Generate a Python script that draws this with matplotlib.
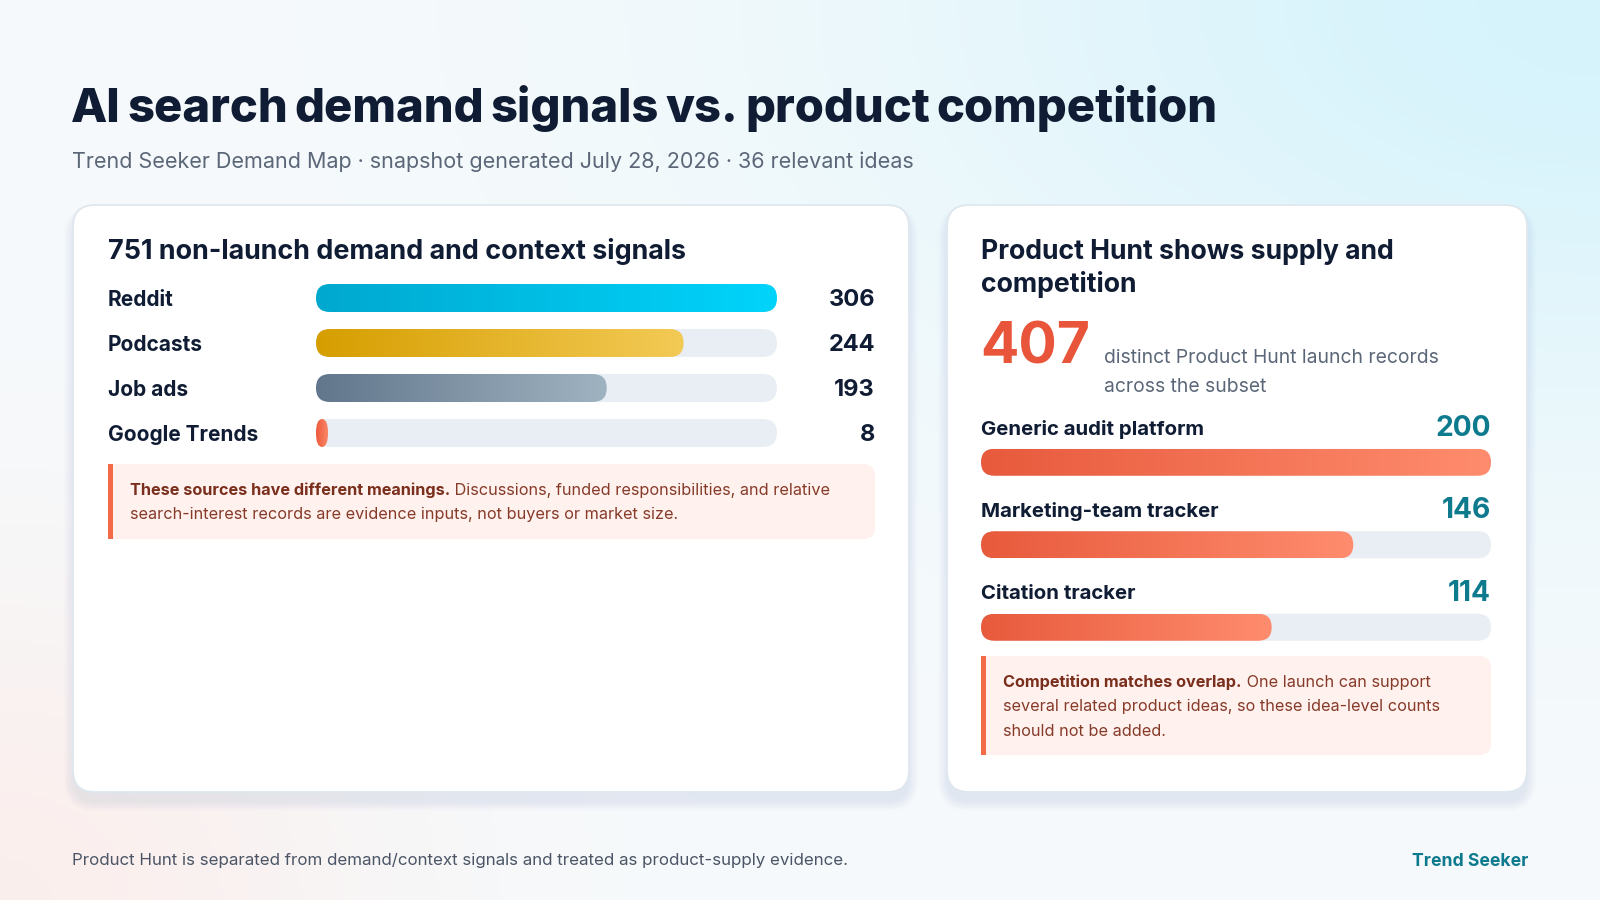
import numpy as np
import matplotlib
matplotlib.use("Agg")
import matplotlib.pyplot as plt
from matplotlib.patches import FancyBboxPatch, Rectangle
from matplotlib.colors import LinearSegmentedColormap, to_rgb

plt.rcParams['font.family'] = ['Inter', 'DejaVu Sans']

# ---- data ----
title = "AI search demand signals vs. product competition"
subtitle = "Trend Seeker Demand Map · snapshot generated July 28, 2026 · 36 relevant ideas"
demand_total = 751
demand_sources = ["Reddit", "Podcasts", "Job ads", "Google Trends"]
demand_counts = [306, 244, 193, 8]
demand_colors = [("#00a8cf", "#00d4fb"), ("#d69e00", "#f3ca55"),
                 ("#62768c", "#a0b3c1"), ("#ee5a3c", "#fa8b6b")]
launch_total = 407
competitor_names = ["Generic audit platform", "Marketing-team tracker", "Citation tracker"]
competitor_counts = [200, 146, 114]
competitor_colors = ("#e85a3c", "#ff8c6e")

NAVY = "#0f1c33"
GRAY = "#5b6778"
TEAL = "#0e7a8e"
TRACK = "#e9eef4"

W, H = 1600, 900
fig = plt.figure(figsize=(16, 9), dpi=100)
ax = fig.add_axes([0, 0, 1, 1])
ax.axis('off')

# background: soft gradient, cyan top-right, pink bottom-left
yy, xx = np.mgrid[0:H:4, 0:W:4]
base = np.array(to_rgb("#f6fafc"))
cyan = np.array(to_rgb("#d6f3fb"))
pink = np.array(to_rgb("#fcece9"))
d1 = np.exp(-(((xx - 1600) / 700.0) ** 2 + ((yy - 0) / 420.0) ** 2))
d2 = np.exp(-(((xx - 0) / 380.0) ** 2 + ((yy - 900) / 330.0) ** 2))
img = base[None, None, :] * (1 - d1[..., None] - d2[..., None] * 0.8) \
    + cyan[None, None, :] * d1[..., None] + pink[None, None, :] * d2[..., None] * 0.8
ax.imshow(np.clip(img, 0, 1), extent=(0, W, H, 0), aspect='auto', zorder=0)


def card(x, y, w, h):
    # shadow
    for k in range(10):
        s = FancyBboxPatch((x - k, y + 6 - k + 4), w + 2 * k, h + 2 * k,
                           boxstyle=f"round,pad=0,rounding_size={22 + k}",
                           facecolor="#8094a8", alpha=0.01, linewidth=0, zorder=1)
        ax.add_patch(s)
    p = FancyBboxPatch((x, y), w, h, boxstyle="round,pad=0,rounding_size=22",
                       facecolor="white", edgecolor="#dfe7ee", linewidth=1.3, zorder=2)
    ax.add_patch(p)


def note(x, y, w, h):
    ax.add_patch(FancyBboxPatch((x, y), w, h, boxstyle="round,pad=0,rounding_size=12",
                                facecolor="#fff1ee", linewidth=0, zorder=3))
    ax.add_patch(Rectangle((x, y), 20, h, facecolor="#fff1ee", linewidth=0, zorder=3))
    ax.add_patch(Rectangle((x, y), 4.5, h, facecolor="#f26a48", linewidth=0, zorder=4))


card(73, 205, 836, 587)
card(947, 205, 580, 587)
note(108, 464, 767, 75)
note(981, 656, 510, 99)

ax.set_xlim(0, W)
ax.set_ylim(H, 0)
fig.canvas.draw()
renderer = fig.canvas.get_renderer()


def text_width(s, **kw):
    t = ax.text(0, 0, s, **kw)
    w = t.get_window_extent(renderer).width
    t.remove()
    return w


def tight_heading(x, y, s, target_w, size, gap_em=0.14, **kw):
    # words set with narrow gaps, scaled so the line fits the target width
    words = s.split(" ")
    em = size * 100 / 72
    ws = [text_width(wd, fontsize=size, **kw) for wd in words]
    total = sum(ws) + gap_em * em * (len(words) - 1)
    size = size * target_w / total
    em = size * 100 / 72
    cx = x
    for wd in words:
        t = ax.text(cx, y, wd, fontsize=size, va='baseline', **kw)
        cx += t.get_window_extent(renderer).width + gap_em * em


tight_heading(71, 122, title, 1149, 39, fontweight=800, color=NAVY, zorder=5)
ax.text(72, 168, subtitle, fontsize=15.5, color=GRAY, va='baseline', zorder=5)

ax.text(108, 259, f"{demand_total} non-launch demand and context signals",
        fontsize=19.4, fontweight='bold', color=NAVY, va='baseline', zorder=5)
ax.text(981, 259, "Product Hunt shows supply and", fontsize=19.2, fontweight='bold',
        color=NAVY, va='baseline', zorder=5)
ax.text(981, 292, "competition", fontsize=19.2, fontweight='bold',
        color=NAVY, va='baseline', zorder=5)
ax.text(980, 364, f"{launch_total}", fontsize=41, fontweight='bold',
        color="#e8553a", va='baseline', zorder=5)
ax.text(1104, 363, "distinct Product Hunt launch records", fontsize=13.9,
        color=GRAY, va='baseline', zorder=5)
ax.text(1104, 392, "across the subset", fontsize=13.9, color=GRAY, va='baseline', zorder=5)

# footer
ax.text(72, 861, "Product Hunt is separated from demand/context signals and treated as product-supply evidence.",
        fontsize=12.2, color="#4b5565", va='center', zorder=5)
ax.text(1528, 861, "Trend Seeker", fontsize=12.7, fontweight='bold', color=TEAL,
        ha='right', va='center', zorder=5)


def rich_lines(x, ys, bold, lines, size=11.7):
    t = ax.text(x, ys[0], bold, fontsize=size, fontweight='bold', color="#7a2e1c",
                va='center', zorder=5)
    bw = t.get_window_extent(renderer).width
    ax.text(x + bw, ys[0], " " + lines[0], fontsize=size, color="#863a28", va='center', zorder=5)
    for yv, ln in zip(ys[1:], lines[1:]):
        ax.text(x, yv, ln, fontsize=size, color="#863a28", va='center', zorder=5)


rich_lines(130, [490, 514], "These sources have different meanings.",
           ["Discussions, funded responsibilities, and relative",
            "search-interest records are evidence inputs, not buyers or market size."])
rich_lines(1003, [682, 706, 731], "Competition matches overlap.",
           ["One launch can support",
            "several related product ideas, so these idea-level counts",
            "should not be added."])


def pill(bax, x0, width, yc, h, c0, c1, ppx, ppy, z=3):
    w_px = max(width * ppx, 0.5)
    h_px = h * ppy
    rx = min(h_px / 2, w_px / 2)
    ry = h_px / 2
    patch = FancyBboxPatch((x0, yc - h / 2), width, h,
                           boxstyle=f"round,pad=0,rounding_size={rx / ppx}",
                           mutation_aspect=(ry / ppy) / (rx / ppx),
                           facecolor=c0 if c1 is None else 'none',
                           linewidth=0, zorder=z)
    bax.add_patch(patch)
    if c1 is not None:
        cmap = LinearSegmentedColormap.from_list("g", [c0, c1])
        grad = np.linspace(0, 1, 256)[None, :]
        im = bax.imshow(grad, cmap=cmap, extent=(x0, x0 + width, yc + h / 2, yc - h / 2),
                        aspect='auto', zorder=z, interpolation='bilinear')
        im.set_clip_path(patch)


def px_axes(left, top, width, height):
    a = fig.add_axes([left / W, 1 - (top + height) / H, width / W, height / H])
    a.axis('off')
    a.patch.set_alpha(0)
    return a


# left bars
lx0, lx1 = 316, 777
ltop, row = 275.5, 45
bax = px_axes(lx0, ltop, lx1 - lx0, row * len(demand_sources))
vmax = max(demand_counts)
ppx = (lx1 - lx0) / vmax
bh = 28 / row
for i, (name, v, (c0, c1)) in enumerate(zip(demand_sources, demand_counts, demand_colors)):
    pill(bax, 0, vmax, i, bh, TRACK, None, ppx, row, z=2)
    pill(bax, 0, v, i, bh, c0, c1, ppx, row, z=3)
    bax.text((108 - lx0) / (lx1 - lx0), i + 2 / row, name, transform=bax.get_yaxis_transform(),
             fontsize=15, fontweight='bold', color=NAVY, ha='left', va='center')
    bax.text((875 - lx0) / (lx1 - lx0), i + 2 / row, f"{v}", transform=bax.get_yaxis_transform(),
             fontsize=17, fontweight='bold', color=NAVY, ha='right', va='center')
bax.set_xlim(0, vmax)
bax.set_ylim(len(demand_sources) - 0.5, -0.5)

# right bars
rx0, rx1 = 981, 1491
rtop, rrow = 421, 82.5
cax = px_axes(rx0, rtop, rx1 - rx0, rrow * len(competitor_names))
cmax = max(competitor_counts)
cppx = (rx1 - rx0) / cmax
ch = 27 / rrow
for i, (name, v) in enumerate(zip(competitor_names, competitor_counts)):
    pill(cax, 0, cmax, i, ch, TRACK, None, cppx, rrow, z=2)
    pill(cax, 0, v, i, ch, competitor_colors[0], competitor_colors[1], cppx, rrow, z=3)
    cax.text(0, i - 33 / rrow, name, fontsize=14.7, fontweight='bold', color=NAVY,
             ha='left', va='center')
    cax.text(cmax, i - 34 / rrow, f"{v}", fontsize=20.3, fontweight='bold', color=TEAL,
             ha='right', va='center')
cax.set_xlim(0, cmax)
cax.set_ylim(len(competitor_names) - 0.5, -0.5)

fig.savefig("out.png", dpi=100)
